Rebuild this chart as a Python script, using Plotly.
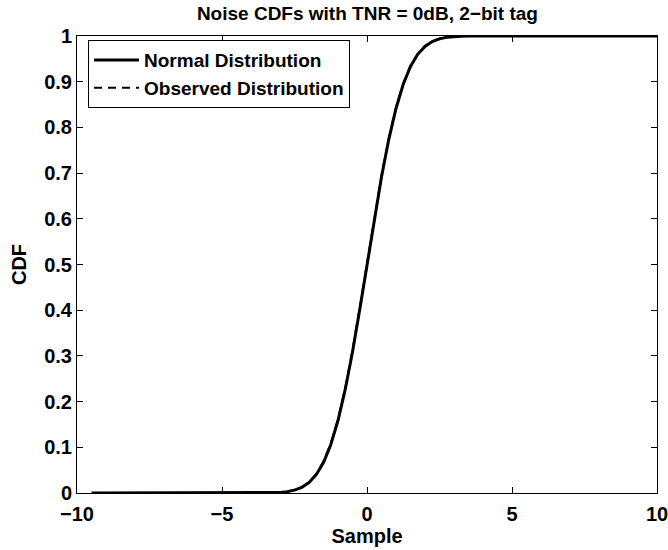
import plotly.graph_objects as go

# Normal distribution CDF
normal_x = [-9.5, -4.0, -3.75, -3.5, -3.25, -3.0, -2.75, -2.5, -2.25, -2.0, -1.75, -1.5, -1.25,
            -1.0, -0.75, -0.5, -0.25, 0.0, 0.25, 0.5, 0.75, 1.0, 1.25, 1.5, 1.75, 2.0,
            2.25, 2.5, 2.75, 3.0, 3.25, 3.5, 3.75, 4.0, 10.0]
normal_cdf = [0.0, 0.00003, 0.00009, 0.00023, 0.00058, 0.00135, 0.00298, 0.00621, 0.01222,
              0.02275, 0.04006, 0.06681, 0.10565, 0.15866, 0.22663, 0.30854, 0.40129, 0.5,
              0.59871, 0.69146, 0.77337, 0.84134, 0.89435, 0.93319, 0.95994, 0.97725,
              0.98778, 0.99379, 0.99702, 0.99865, 0.99942, 0.99977, 0.99991, 0.99997, 1.0]

observed_x = [-3.7, -3.5, -3.25, -3.0, -2.75, -2.5, -2.25, -2.0, -1.75, -1.5, -1.25, -1.0,
              -0.75, -0.5, -0.25, 0.0, 0.25, 0.5, 0.75, 1.0, 1.25, 1.5, 1.75, 2.0, 2.25,
              2.5, 2.75, 3.0, 3.3]
observed_cdf = [0.0, 0.0003, 0.0007, 0.0016, 0.0033, 0.0068, 0.0130, 0.0240, 0.0418, 0.0690,
                0.1080, 0.1610, 0.2300, 0.3120, 0.4050, 0.5040, 0.6020, 0.6950, 0.7760,
                0.8430, 0.8960, 0.9350, 0.9615, 0.9785, 0.9885, 0.9945, 0.9975, 0.9990, 1.0]

x_ticks = [-10, -5, 0, 5, 10]
x_tick_labels = ["\u221210", "\u22125", "0", "5", "10"]
y_ticks = [0, 0.1, 0.2, 0.3, 0.4, 0.5, 0.6, 0.7, 0.8, 0.9, 1]
y_tick_labels = ["0", "0.1", "0.2", "0.3", "0.4", "0.5", "0.6", "0.7", "0.8", "0.9", "1"]

FONT = "Liberation Sans, Arial, Helvetica, sans-serif"

fig = go.Figure()
fig.add_trace(go.Scatter(x=normal_x, y=normal_cdf, mode="lines", name="Normal Distribution",
                         line=dict(color="black", width=3)))
fig.add_trace(go.Scatter(x=observed_x, y=observed_cdf, mode="lines", name="Observed Distribution",
                         line=dict(color="black", width=2, dash="8px,6px")))

axis_common = dict(showline=True, linecolor="black", linewidth=1, mirror="ticks",
                   ticks="inside", ticklen=6, tickcolor="black", showgrid=False, zeroline=False,
                   automargin=False, ticklabeloverflow="allow",
                   tickfont=dict(family=FONT, size=20, color="black", weight="bold"))

fig.update_layout(
    width=668, height=550,
    margin=dict(l=77, r=11, t=36, b=57),
    paper_bgcolor="white", plot_bgcolor="white",
    title=dict(text="Noise CDFs with TNR = 0dB, 2\u2212bit tag", x=0.55, xanchor="center",
               y=0.975, yanchor="middle",
               font=dict(family=FONT, size=19, color="black", weight="bold")),
    xaxis=dict(range=[-10, 10], tickvals=x_ticks, ticktext=x_tick_labels,
               ticklabelstandoff=3,
               title=dict(text="Sample", standoff=4,
                          font=dict(family=FONT, size=20, color="black", weight="bold")),
               **axis_common),
    yaxis=dict(range=[0, 1], tickvals=y_ticks, ticktext=y_tick_labels,
               ticklabelstandoff=0,
               title=dict(text="CDF", standoff=12,
                          font=dict(family=FONT, size=20, color="black", weight="bold")),
               **axis_common),
    legend=dict(x=0.019, y=0.991, xanchor="left", yanchor="top", bgcolor="white",
                bordercolor="black", borderwidth=1, tracegroupgap=0, itemwidth=45,
                font=dict(family=FONT, size=19, color="black", weight="bold")),
    showlegend=True,
)

fig.write_html("out.html")
